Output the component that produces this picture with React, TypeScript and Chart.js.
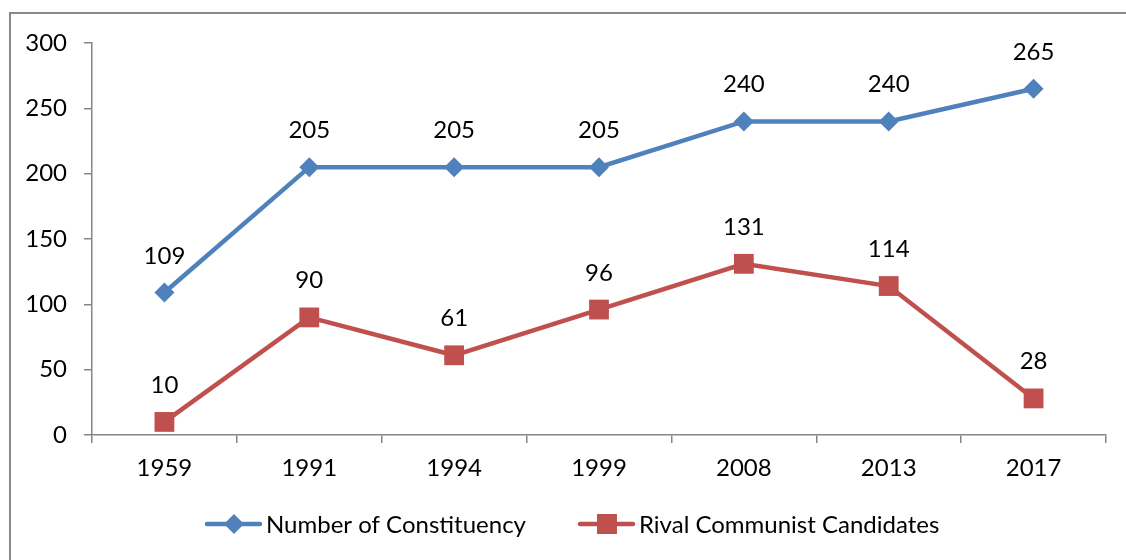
import React, { useEffect, useRef } from 'react';
import { Chart, registerables } from 'chart.js';

Chart.register(...registerables);

const categories = ['1959', '1991', '1994', '1999', '2008', '2013', '2017'];
const constituency = [109, 205, 205, 205, 240, 240, 265];
const rival = [10, 90, 61, 96, 131, 114, 28];
const seriesNames = ['Number of Constituency', 'Rival Communist Candidates'];
const yMin = 0;
const yMax = 300;
const yStep = 50;

const FONT_FAMILY = 'Lato, "Open Sans", "DejaVu Sans", sans-serif';
const FONT_SIZE = 24;
const BLUE = '#4F81BD';
const RED = '#C0504D';
const AXIS = '#868686';

function drawMarker(ctx: CanvasRenderingContext2D, style: string, x: number, y: number, color: string) {
  ctx.save();
  ctx.fillStyle = color;
  ctx.beginPath();
  if (style === 'rectRot') {
    const r = 10;
    ctx.moveTo(x, y - r);
    ctx.lineTo(x + r, y);
    ctx.lineTo(x, y + r);
    ctx.lineTo(x - r, y);
    ctx.closePath();
  } else {
    ctx.rect(x - 10, y - 10, 20, 20);
  }
  ctx.fill();
  ctx.restore();
}

const framePlugin = {
  id: 'frame',
  beforeDraw(chart: any) {
    const ctx = chart.ctx;
    ctx.save();
    ctx.fillStyle = '#fff';
    ctx.fillRect(0, 0, chart.width, chart.height);
    ctx.strokeStyle = '#898989';
    ctx.lineWidth = 2;
    ctx.beginPath();
    ctx.moveTo(10, chart.height + 5);
    ctx.lineTo(10, 13);
    ctx.lineTo(chart.width + 5, 13);
    ctx.stroke();
    ctx.restore();
  },
};

const labelPlugin = {
  id: 'valueLabels',
  afterDatasetsDraw(chart: any) {
    const ctx = chart.ctx;
    ctx.save();
    ctx.font = `${FONT_SIZE}px ${FONT_FAMILY}`;
    ctx.fillStyle = '#000';
    ctx.textAlign = 'center';
    ctx.textBaseline = 'alphabetic';
    chart.data.datasets.forEach((ds: any, i: number) => {
      const meta = chart.getDatasetMeta(i);
      meta.data.forEach((pt: any, j: number) => {
        ctx.fillText(String(ds.data[j]), pt.x, pt.y - 29);
      });
    });
    ctx.restore();
  },
};

const legendPlugin = {
  id: 'customLegend',
  afterDraw(chart: any) {
    const ctx = chart.ctx;
    ctx.save();
    ctx.font = `${FONT_SIZE}px ${FONT_FAMILY}`;
    ctx.textBaseline = 'middle';
    ctx.textAlign = 'left';
    let x = 205;
    const y = 524;
    chart.data.datasets.forEach((ds: any) => {
      ctx.strokeStyle = ds.borderColor;
      ctx.lineWidth = 4.5;
      ctx.lineCap = 'round';
      ctx.beginPath();
      ctx.moveTo(x + 2, y);
      ctx.lineTo(x + 55, y);
      ctx.stroke();
      drawMarker(ctx, ds.pointStyle, x + 29, y, ds.borderColor);
      ctx.fillStyle = '#000';
      ctx.fillText(ds.label, x + 61, y + 1);
      x = x + 61 + ctx.measureText(ds.label).width + 52;
    });
    ctx.restore();
  },
};

export default function App() {
  const canvasRef = useRef<HTMLCanvasElement | null>(null);

  useEffect(() => {
    if (!canvasRef.current) return;
    const chart = new Chart(canvasRef.current, {
      type: 'line',
      data: {
        labels: categories,
        datasets: [
          {
            label: seriesNames[0],
            data: constituency,
            borderColor: BLUE,
            backgroundColor: BLUE,
            borderWidth: 4.5,
            pointStyle: 'rectRot',
            pointRadius: 10,
            pointHoverRadius: 10,
            pointBorderWidth: 0,
            pointBackgroundColor: BLUE,
            tension: 0,
          },
          {
            label: seriesNames[1],
            data: rival,
            borderColor: RED,
            backgroundColor: RED,
            borderWidth: 4.5,
            pointStyle: 'rect',
            pointRadius: 14,
            pointHoverRadius: 14,
            pointBorderWidth: 0,
            pointBackgroundColor: RED,
            tension: 0,
          },
        ],
      },
      options: {
        responsive: false,
        animation: false,
        layout: { padding: { left: 0, top: 43, right: 20, bottom: 0 } },
        plugins: {
          legend: { display: false },
          tooltip: { enabled: false },
        },
        scales: {
          x: {
            type: 'category',
            offset: true,
            grid: {
              offset: true,
              drawOnChartArea: false,
              drawTicks: true,
              tickLength: 8,
              color: AXIS,
              lineWidth: 1.5,
            },
            border: { display: true, color: AXIS, width: 1.5 },
            ticks: {
              color: '#000',
              font: { family: FONT_FAMILY, size: FONT_SIZE },
              padding: 11,
              maxRotation: 0,
            },
            afterFit(scale: any) {
              scale.height = 125;
            },
          },
          y: {
            min: yMin,
            max: yMax,
            grid: {
              drawOnChartArea: false,
              drawTicks: true,
              tickLength: 8,
              color: AXIS,
              lineWidth: 1.5,
            },
            border: { display: true, color: AXIS, width: 1.5 },
            ticks: {
              stepSize: yStep,
              color: '#000',
              font: { family: FONT_FAMILY, size: FONT_SIZE },
              padding: 17,
            },
            afterFit(scale: any) {
              scale.width = 92;
            },
          },
        },
      },
      plugins: [framePlugin, labelPlugin, legendPlugin],
    });
    return () => chart.destroy();
  }, []);

  return (
    <div style={{ position: 'absolute', left: 0, top: 0, width: 1126, height: 560 }}>
      <canvas ref={canvasRef} width={1126} height={560} style={{ display: 'block' }} />
    </div>
  );
}
